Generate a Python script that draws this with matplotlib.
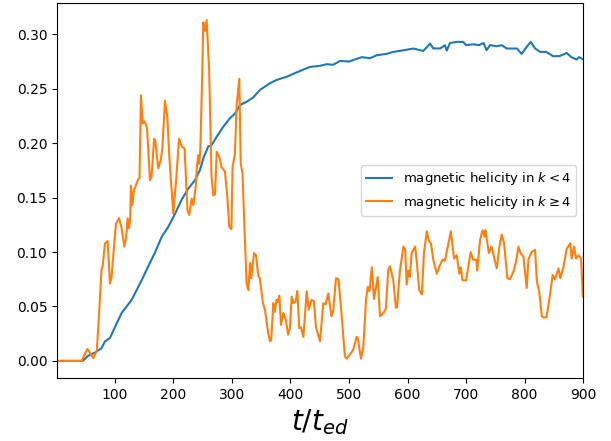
import numpy as np
import matplotlib.pyplot as plt

# magnetic helicity in k < 4
t_low = [1, 45, 54, 65.6, 77, 83, 91.5, 100, 111.5, 128.5, 145.6, 157, 168, 180, 191,
         202.6, 214, 225, 236.7, 245, 251.7, 259.5, 265, 274, 285, 296.6, 305, 313.7,
         325, 336.4, 348, 365, 376, 393.5, 410.6, 433, 450, 462, 473, 484.6, 500, 522,
         536, 547, 564, 575.7, 593, 610, 627, 638.5, 644, 656, 664, 667, 672.6, 684,
         695, 700, 712.5, 722, 730, 735, 741, 752.5, 761, 769.6, 787, 795, 803, 810.6,
         818, 826.5, 837, 849, 860, 872, 880, 889, 893, 900]
h_low = [0, 0, 0.0046, 0.0076, 0.0116, 0.018, 0.021, 0.031, 0.044, 0.056, 0.074, 0.087,
         0.099, 0.114, 0.123, 0.135, 0.148, 0.158, 0.166, 0.175, 0.187, 0.197, 0.198,
         0.206, 0.215, 0.223, 0.227, 0.235, 0.238, 0.242, 0.249, 0.255, 0.258, 0.261,
         0.265, 0.270, 0.271, 0.2725, 0.272, 0.2755, 0.275, 0.279, 0.278, 0.2807, 0.282,
         0.2838, 0.2853, 0.2869, 0.2847, 0.2914, 0.287, 0.287, 0.290, 0.285, 0.292,
         0.293, 0.293, 0.290, 0.2908, 0.290, 0.292, 0.2853, 0.290, 0.289, 0.290, 0.2869,
         0.2869, 0.282, 0.288, 0.293, 0.287, 0.2838, 0.2838, 0.2798, 0.280, 0.2828,
         0.279, 0.2768, 0.279, 0.277]

# magnetic helicity in k >= 4
t_high = [1, 43, 53, 63, 69, 73, 77, 79, 83, 87.5, 91.5, 94, 101.7, 107, 111, 116, 119,
          121.7, 124, 126, 127.4, 129.7, 132.5, 140, 142, 144.4, 147.3, 150, 153, 155,
          159.8, 162.5, 167, 169, 174, 178.5, 181, 185.5, 189.5, 193, 199.7, 205, 209.4,
          214, 219, 221, 224, 227, 231, 234, 238, 240, 242.5, 244, 246, 249, 251, 254,
          256.7, 261, 265, 268, 271, 274, 279, 282, 288, 292, 295.4, 299, 301, 305, 308,
          312.5, 315, 318, 321, 325, 328, 331, 333, 337.6, 341, 345, 347.5, 353, 356.4,
          362, 365, 367, 370.6, 373, 376, 378, 381, 383.8, 387.7, 392, 396, 399, 402,
          405, 409, 411.6, 415, 418, 422, 427.7, 431, 436, 440, 443.6, 450.4, 456, 460,
          464.6, 470, 473, 477.8, 482, 486, 493, 496, 507, 513, 515, 520.5, 524.5, 529,
          532, 535, 539, 542.7, 549, 553, 559, 563, 567, 570, 575.7, 580, 582, 587, 593,
          596, 598.6, 601.5, 604, 607, 613, 616, 620, 624.5, 628, 633, 636, 640, 644,
          650, 654.5, 660, 664, 670, 674, 679.5, 684, 688.5, 691, 694, 700, 704, 708,
          712, 717.5, 719, 724, 728, 731.5, 733, 739, 743.5, 747.5, 752.5, 757, 761,
          765, 770.6, 775, 781, 785.5, 789.5, 793, 798, 803.7, 806.5, 812, 818, 821,
          825, 829.4, 832, 837.5, 843.6, 848, 852, 858, 861, 866, 872, 878, 880.6,
          884.6, 888, 892, 896.6, 899.5, 900]
h_high = [0, 0, 0.011, 0.0025, 0.0095, 0.044, 0.084, 0.087, 0.108, 0.110, 0.071, 0.076,
          0.126, 0.131, 0.123, 0.105, 0.113, 0.131, 0.122, 0.130, 0.161, 0.143, 0.157,
          0.167, 0.168, 0.244, 0.218, 0.220, 0.217, 0.213, 0.166, 0.169, 0.204, 0.202,
          0.177, 0.185, 0.195, 0.239, 0.224, 0.187, 0.135, 0.169, 0.204, 0.197, 0.195,
          0.172, 0.138, 0.134, 0.149, 0.143, 0.160, 0.178, 0.189, 0.181, 0.195, 0.260,
          0.311, 0.303, 0.313, 0.267, 0.170, 0.152, 0.153, 0.192, 0.186, 0.178, 0.174,
          0.151, 0.123, 0.121, 0.178, 0.190, 0.235, 0.259, 0.181, 0.172, 0.127, 0.071,
          0.065, 0.090, 0.076, 0.099, 0.097, 0.078, 0.076, 0.053, 0.047, 0.025, 0.018,
          0.019, 0.053, 0.045, 0.056, 0.054, 0.060, 0.033, 0.044, 0.038, 0.024, 0.030,
          0.059, 0.053, 0.055, 0.064, 0.030, 0.031, 0.022, 0.064, 0.047, 0.056, 0.055,
          0.031, 0.018, 0.053, 0.052, 0.062, 0.041, 0.046, 0.076, 0.075, 0.051, 0.004,
          0.002, 0.010, 0.022, 0.021, 0.002, 0.013, 0.056, 0.068, 0.064, 0.086, 0.057,
          0.077, 0.041, 0.044, 0.048, 0.083, 0.087, 0.074, 0.049, 0.049, 0.083, 0.105,
          0.102, 0.070, 0.083, 0.077, 0.099, 0.105, 0.090, 0.065, 0.061, 0.099, 0.119,
          0.111, 0.108, 0.093, 0.080, 0.087, 0.093, 0.092, 0.108, 0.119, 0.094, 0.097,
          0.080, 0.086, 0.074, 0.074, 0.087, 0.100, 0.093, 0.093, 0.083, 0.111, 0.120,
          0.114, 0.120, 0.099, 0.105, 0.096, 0.085, 0.105, 0.116, 0.108, 0.076, 0.075,
          0.082, 0.091, 0.105, 0.099, 0.096, 0.067, 0.093, 0.100, 0.102, 0.073, 0.064,
          0.041, 0.040, 0.040, 0.061, 0.079, 0.075, 0.085, 0.076, 0.085, 0.103, 0.108,
          0.094, 0.105, 0.094, 0.097, 0.094, 0.059, 0.059]

fig = plt.figure(figsize=(6.11, 4.41), dpi=100)
ax = fig.add_axes([0.0933, 0.143, 0.861, 0.850])

ax.plot(t_low, h_low, label=r'magnetic helicity in $k<4$')
ax.plot(t_high, h_high, label=r'magnetic helicity in $k\geq4$')

ax.set_xlim(1, 900)
ax.set_xticks([100, 200, 300, 400, 500, 600, 700, 800, 900])
ax.set_xlabel(r'$t/t_{ed}$', fontsize=20)
ax.legend(loc='center right', fontsize=9.5)

plt.savefig('out.png', dpi=100)
